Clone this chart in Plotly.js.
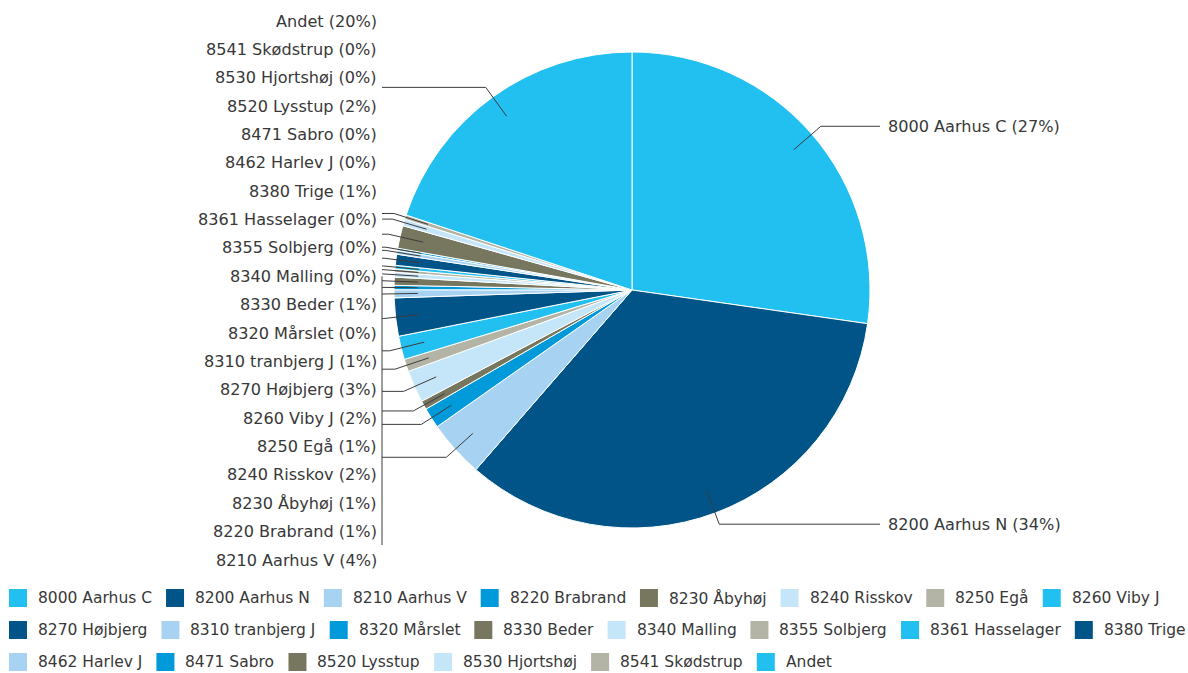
<!DOCTYPE html>
<html>
<head>
<meta charset="utf-8">
<script src="https://cdn.plot.ly/plotly-3.0.1.min.js"></script>
<style>
html,body{margin:0;padding:0;background:#fff;}
#chart{width:1188px;height:673px;}
</style>
</head>
<body>
<div id="chart"></div>
<script>
// ---- data ----
const categories = ["8000 Aarhus C","8200 Aarhus N","8210 Aarhus V","8220 Brabrand","8230 Åbyhøj","8240 Risskov","8250 Egå","8260 Viby J","8270 Højbjerg","8310 tranbjerg J","8320 Mårslet","8330 Beder","8340 Malling","8355 Solbjerg","8361 Hasselager","8380 Trige","8462 Harlev J","8471 Sabro","8520 Lysstup","8530 Hjortshøj","8541 Skødstrup","Andet"];
const shares = [27.4,34.3,3.9,1.4,0.6,2.2,0.85,1.6,2.6,0.55,0.3,0.55,0.33,0.22,0.25,0.75,0.26,0.15,1.55,0.45,0.3,20.0];
const palette = ["#21C0F0","#005487","#A8D2F2","#009ADA","#77765E","#C4E6F8","#B4B4A6"];

// ---- layout constants ----
const W = 1188, H = 673;
const cx = 632, cy = 290, R = 238;
const textColor = "#383838";
const lineColor = "#3c3c3c";
const labelFontSize = 16.1;
const labelFont = {family: "DejaVu Sans, Verdana, sans-serif", size: labelFontSize, color: textColor};
const legendFontSize = 15.5;
const legendFont = {family: "DejaVu Sans, Verdana, sans-serif", size: legendFontSize, color: textColor};

const colors = categories.map((c, i) => palette[i % palette.length]);
const total = shares.reduce((a, b) => a + b, 0);
const labelTexts = categories.map((c, i) => c + " (" + Math.round(shares[i] / total * 100) + "%)");

const px = x => x / W;
const py = y => 1 - y / H;
function pt(rf, deg) {
  const a = deg * Math.PI / 180;
  return [cx + R * rf * Math.sin(a), cy - R * rf * Math.cos(a)];
}

const shapes = [];
const annotations = [];

// mid angles of slices
let cum = 0;
const mids = shares.map(v => { const s = cum; cum += v / total * 360; return (s + cum) / 2; });

// left label column (top to bottom = reverse order of left slices)
const leftIdx = [];
mids.forEach((m, i) => { if (m > 180) leftIdx.push(i); });
leftIdx.reverse();
const colTop = 21, colStep = 28.37, colRight = 379, busX = 382;
const rightLineEnd = 880, rightTextX = 886;

function seg(p, q) {
  shapes.push({type: "line", xref: "paper", yref: "paper",
    x0: px(p[0]), y0: py(p[1]), x1: px(q[0]), y1: py(q[1]),
    line: {color: lineColor, width: 1}});
}

mids.forEach((m, i) => {
  const a = pt(0.9, m), b = pt(1.05, m);
  if (m <= 180) {
    seg(a, b);
    seg(b, [rightLineEnd, b[1]]);
    annotations.push({xref: "paper", yref: "paper", x: px(rightTextX), y: py(b[1]),
      xanchor: "left", yanchor: "middle", showarrow: false, text: labelTexts[i], font: labelFont});
  } else {
    seg(a, b);
    if (b[0] > busX) seg(b, [busX, b[1]]);
  }
});
leftIdx.forEach((i, k) => {
  annotations.push({xref: "paper", yref: "paper", x: px(colRight), y: py(colTop + k * colStep),
    xanchor: "right", yanchor: "middle", showarrow: false, text: labelTexts[i], font: labelFont});
});
// vertical bus for the lower labels
seg([busX, colTop + 9 * colStep], [busX, colTop + 19 * colStep - 15]);

// ---- custom legend (flow layout) ----
const cv = document.createElement("canvas").getContext("2d");
cv.font = legendFontSize + "px 'DejaVu Sans'";
const legLeft = 9, legMax = W, rowY0 = 598, rowStep = 32, sw = 18, textOff = 28, itemGap = 15;
let lx = legLeft, row = 0;
categories.forEach((c, i) => {
  const tw = cv.measureText(c).width;
  if (lx + textOff + tw > legMax) { row++; lx = legLeft; }
  const yy = rowY0 + row * rowStep;
  shapes.push({type: "rect", xref: "paper", yref: "paper",
    x0: px(lx), x1: px(lx + sw), y0: py(yy - sw / 2), y1: py(yy + sw / 2),
    fillcolor: colors[i], line: {width: 0}});
  annotations.push({xref: "paper", yref: "paper", x: px(lx + textOff - 1), y: py(yy),
    xanchor: "left", yanchor: "middle", showarrow: false, text: c, font: legendFont});
  lx += textOff + tw + itemGap;
});

const trace = {
  type: "pie",
  labels: categories,
  values: shares,
  sort: false,
  direction: "clockwise",
  rotation: 0,
  textinfo: "none",
  hoverinfo: "label+percent",
  marker: {colors: colors, line: {color: "#ffffff", width: 1}},
  domain: {x: [(cx - R) / W, (cx + R) / W], y: [1 - (cy + R) / H, 1 - (cy - R) / H]},
  showlegend: false
};

const layout = {
  width: W, height: H,
  margin: {l: 0, r: 0, t: 0, b: 0},
  paper_bgcolor: "#ffffff",
  showlegend: false,
  shapes: shapes,
  annotations: annotations,
  font: labelFont
};

Plotly.newPlot("chart", [trace], layout, {displayModeBar: false, staticPlot: true});
</script>
</body>
</html>
